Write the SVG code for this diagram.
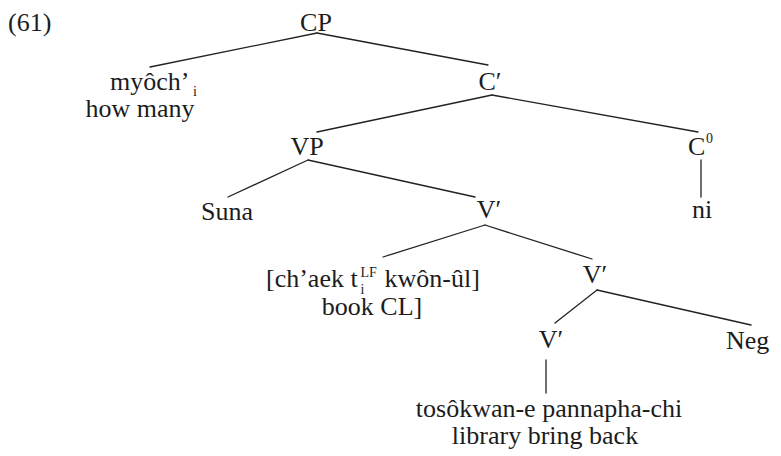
<svg xmlns="http://www.w3.org/2000/svg" width="781" height="456" viewBox="0 0 781 456">
  <style>
    text { font-family: "Liberation Serif", "Times New Roman", serif; font-size: 26px; fill: #1c1c1c; }
    .c { text-anchor: middle; }
    .s { font-size: 14px; }
    .edge { stroke: #222; stroke-width: 1.3; fill: none; stroke-linecap: round; }
  </style>
  <rect width="781" height="456" fill="#ffffff"/>

  <text id="label" x="8" y="31">(61)</text>

  <!-- tree branches -->
  <g id="edges">
    <line class="edge" x1="317" y1="33" x2="150" y2="67"/>
    <line class="edge" x1="317" y1="33" x2="488" y2="65"/>
    <line class="edge" x1="492" y1="95" x2="317" y2="132"/>
    <line class="edge" x1="492" y1="95" x2="698" y2="132"/>
    <line class="edge" x1="308" y1="160" x2="228" y2="197"/>
    <line class="edge" x1="308" y1="160" x2="475" y2="197"/>
    <line class="edge" x1="701" y1="160" x2="701" y2="197"/>
    <line class="edge" x1="485" y1="225" x2="383" y2="257"/>
    <line class="edge" x1="485" y1="225" x2="592" y2="259"/>
    <line class="edge" x1="597" y1="290" x2="555" y2="323"/>
    <line class="edge" x1="597" y1="290" x2="751" y2="325"/>
    <line class="edge" x1="546" y1="360" x2="546" y2="393"/>
  </g>

  <g id="cp"><text class="c" x="316" y="31">CP</text></g>

  <g id="wh">
    <text x="110" y="90">myôch’<tspan class="s" x="193" y="96">i</tspan></text>
    <text class="c" x="140" y="117">how many</text>
  </g>

  <g id="cbar"><text class="c" x="490" y="90">C′</text></g>

  <g id="vp"><text class="c" x="307" y="155">VP</text></g>

  <g id="c0"><text x="688" y="155">C<tspan class="s" x="706" y="143">0</tspan></text></g>

  <g id="suna"><text class="c" x="227" y="220">Suna</text></g>

  <g id="vbar1"><text class="c" x="489" y="218">V′</text></g>

  <g id="ni"><text class="c" x="702" y="218">ni</text></g>

  <g id="object">
    <text x="266" y="287">[ch’aek t<tspan class="s" x="360.5" y="294">i</tspan><tspan class="s" x="360.5" y="277">LF</tspan><tspan x="378" y="287"> kwôn-ûl]</tspan></text>
    <text class="c" x="372" y="315">book CL]</text>
  </g>

  <g id="vbar2"><text class="c" x="595" y="283">V′</text></g>

  <g id="vbar3"><text class="c" x="551" y="348">V′</text></g>

  <g id="neg"><text x="726" y="349">Neg</text></g>

  <g id="verb">
    <text class="c" x="549" y="417">tosôkwan-e pannapha-chi</text>
    <text class="c" x="545" y="444">library bring back</text>
  </g>
</svg>
